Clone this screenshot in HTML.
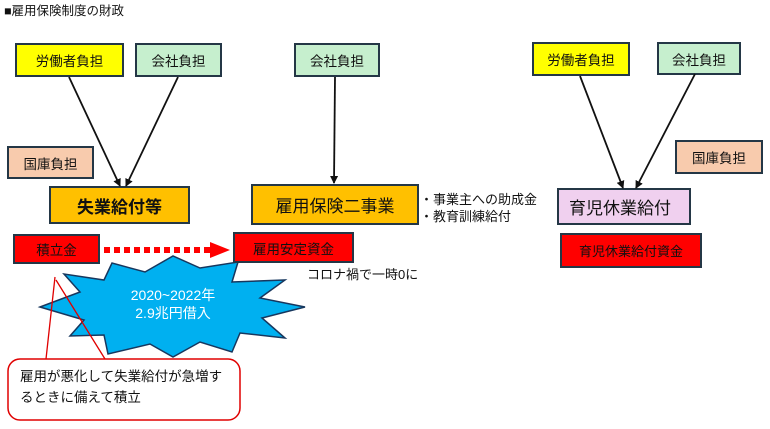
<!DOCTYPE html>
<html><head><meta charset="utf-8"><style>
body{margin:0;width:770px;height:429px;background:#fff;position:relative;overflow:hidden;font-family:"Liberation Sans","Noto Sans CJK JP",sans-serif;}
.b{position:absolute;box-sizing:border-box;border:2px solid #243746;display:flex;align-items:center;justify-content:center;font-size:13.5px;color:#111;}
.t{position:absolute;font-size:12.5px;color:#111;white-space:nowrap;}
</style></head><body>
<div class="t" style="left:4px;top:0px;font-size:12.5px">■雇用保険制度の財政</div>

<div class="b" style="left:15px;top:43px;width:109px;height:34px;background:#ffff00">労働者負担</div>
<div class="b" style="left:135px;top:43px;width:87px;height:34px;background:#c6efce">会社負担</div>
<div class="b" style="left:7px;top:146px;width:87px;height:33px;background:#f8cbad">国庫負担</div>
<div class="b" style="left:49px;top:186px;width:141px;height:38px;background:#ffc000;font-size:17px;font-weight:bold">失業給付等</div>

<div class="b" style="left:294px;top:43px;width:86px;height:34px;background:#c6efce">会社負担</div>
<div class="b" style="left:251px;top:184px;width:168px;height:41px;background:#ffc000;font-size:17px">雇用保険二事業</div>
<div class="t" style="left:420px;top:189px;font-size:13px">・事業主への助成金</div>
<div class="t" style="left:420px;top:206px;font-size:13px">・教育訓練給付</div>

<div class="b" style="left:532px;top:42px;width:98px;height:34px;background:#ffff00">労働者負担</div>
<div class="b" style="left:657px;top:42px;width:84px;height:33px;background:#c6efce">会社負担</div>
<div class="b" style="left:675px;top:140px;width:88px;height:34px;background:#f8cbad">国庫負担</div>
<div class="b" style="left:557px;top:188px;width:134px;height:37px;background:#f0d0ef;font-size:17px;justify-content:flex-start;padding-left:10px">育児休業給付</div>
<div class="b" style="left:560px;top:233px;width:142px;height:35px;background:#ff0000;font-size:13px">育児休業給付資金</div>

<svg width="770" height="429" style="position:absolute;left:0;top:0">
<defs><marker id="a" markerWidth="8" markerHeight="8" refX="7" refY="4" orient="auto" markerUnits="userSpaceOnUse"><path d="M0,0L8,4L0,8z" fill="#111"/></marker></defs>
<g stroke="#111" stroke-width="1.8" marker-end="url(#a)">
<line x1="69" y1="77" x2="120" y2="186"/>
<line x1="178" y1="77" x2="126" y2="186"/>
<line x1="335" y1="77" x2="334" y2="183"/>
<line x1="580" y1="76" x2="623" y2="188"/>
<line x1="695" y1="74" x2="636" y2="188"/>
</g>
<polygon fill="#00b0f0" stroke="#17375e" stroke-width="1.5" points="40,307 80,292 64,274 104,280 112,263 145,272 173,256 200,268 238,262 232,282 285,280 260,298 305,307 262,318 285,338 240,333 232,352 200,342 173,357 150,344 108,354 104,335 70,336 84,320"/>
<line x1="104" y1="250" x2="212" y2="250" stroke="#ff0000" stroke-width="6" stroke-dasharray="6,4"/>
<path d="M210,242L230,250L210,258z" fill="#ff0000"/>
<path d="M55,277 L46,359 M56,280 L105,359" stroke="#e00000" stroke-width="1.3" fill="none"/>
<rect x="8" y="359" width="232" height="61" rx="12" fill="#fff" stroke="#e00000" stroke-width="1.5"/>
</svg>

<div class="b" style="left:13px;top:234px;width:87px;height:30px;background:#ff0000">積立金</div>
<div class="b" style="left:233px;top:232px;width:121px;height:31px;background:#ff0000">雇用安定資金</div>
<div class="t" style="left:307px;top:264px;font-size:13px">コロナ禍で一時0に</div>
<div class="t" style="left:112px;top:286px;color:#fff;font-size:14px;text-align:center;width:122px;line-height:18px;white-space:normal">2020~2022年<br>2.9兆円借入</div>
<div class="t" style="left:20px;top:366px;font-size:13.5px;line-height:21px">雇用が悪化して失業給付が急増す<br>るときに備えて積立</div>
</body></html>
